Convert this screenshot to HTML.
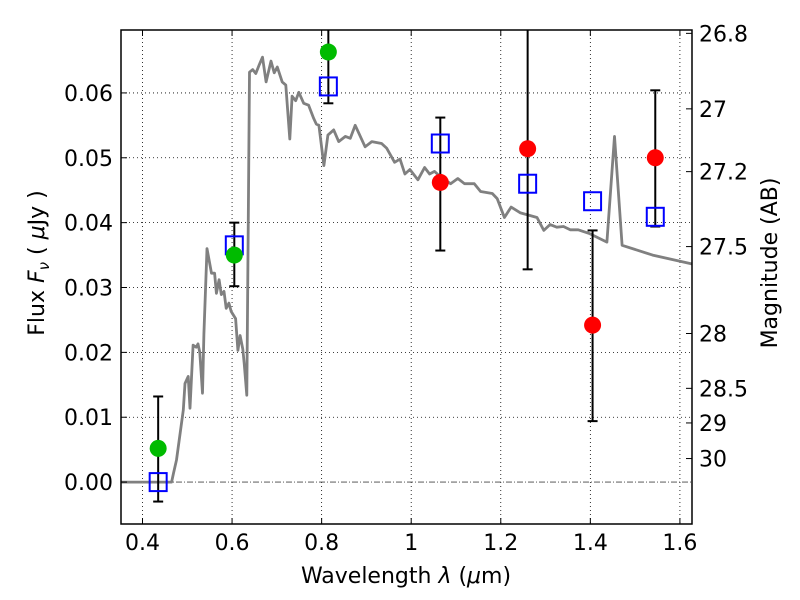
<!DOCTYPE html>
<html><head><meta charset="utf-8"><style>
body{margin:0;background:#fff;}
svg{display:block;font-family:"DejaVu Sans","Liberation Sans",sans-serif;}
</style></head><body>
<svg id="chart" width="800" height="600" viewBox="0 0 800 600" xmlns="http://www.w3.org/2000/svg">
<rect width="800" height="600" fill="#fff"/>
<g id="grid"></g>
<g id="marks"></g>
<g id="axes"></g>
</svg>
<script>
const specLam=[0.35,0.465,0.469,0.476,0.491,0.495,0.502,0.506,0.513,0.52,0.524,0.528,0.534,0.537,0.544,0.554,0.561,0.565,0.571,0.576,0.582,0.587,0.593,0.598,0.608,0.613,0.618,0.624,0.627,0.633,0.636,0.639,0.646,0.653,0.661,0.668,0.676,0.687,0.694,0.701,0.712,0.72,0.729,0.734,0.742,0.749,0.76,0.771,0.782,0.788,0.794,0.805,0.814,0.827,0.838,0.853,0.864,0.875,0.897,0.912,0.934,0.945,0.963,0.975,0.986,0.997,1.015,1.03,1.041,1.052,1.066,1.088,1.104,1.119,1.141,1.155,1.181,1.192,1.208,1.223,1.244,1.281,1.296,1.31,1.325,1.34,1.355,1.373,1.399,1.437,1.454,1.471,1.539,1.63];
const specFlux=[0,0,0.0013,0.0034,0.0111,0.0152,0.0163,0.0114,0.0211,0.0208,0.0213,0.02,0.0137,0.0228,0.036,0.0322,0.0322,0.0291,0.0312,0.0289,0.0294,0.0268,0.0276,0.0263,0.0252,0.0203,0.0226,0.0205,0.0183,0.0134,0.0388,0.0632,0.0636,0.063,0.0644,0.0655,0.0617,0.0649,0.0631,0.064,0.0617,0.0612,0.0529,0.0595,0.0588,0.0601,0.0584,0.0581,0.0561,0.0552,0.055,0.0488,0.0535,0.0543,0.0525,0.0533,0.053,0.055,0.0517,0.0525,0.0522,0.0515,0.0493,0.0498,0.0475,0.0482,0.0466,0.0485,0.0475,0.0479,0.047,0.046,0.0468,0.046,0.046,0.0448,0.0445,0.0437,0.0408,0.0424,0.0415,0.0408,0.0388,0.0397,0.0393,0.0394,0.0389,0.0389,0.0383,0.037,0.0533,0.0365,0.035,0.0336];
const bandLam=[0.435,0.605,0.815,1.065,1.26,1.405,1.545];
const obsFlux=[0.0052,0.035,0.0663,0.0462,0.0514,0.0242,0.0500];
const errLo=[-0.003,0.0302,0.0584,0.0357,0.0328,0.0094,0.0394];
const errHi=[0.0132,0.040,0.080,0.0562,0.080,0.0388,0.0604];
const detected=[false,false,false,true,true,true,true];
const modelFlux=[0.0000,0.0365,0.061,0.0522,0.046,0.0433,0.0409];
const xTicks=[0.4,0.6,0.8,1.0,1.2,1.4,1.6];
const xTickLabels=["0.4","0.6","0.8","1","1.2","1.4","1.6"];
const yTicks=[0,0.01,0.02,0.03,0.04,0.05,0.06];
const yTickLabels=["0.00","0.01","0.02","0.03","0.04","0.05","0.06"];
const magTicks=[26.8,27,27.2,27.5,28,28.5,29,30];
const magTickLabels=["26.8","27","27.2","27.5","28","28.5","29","30"];

const L=121,R=692,T=30,B=524;
const X0=0.352,X1=1.627,Y0=-0.00646,Y1=0.0697;
const sx=v=>L+(v-X0)/(X1-X0)*(R-L);
const sy=v=>B-(v-Y0)/(Y1-Y0)*(B-T);
const NS="http://www.w3.org/2000/svg";
function mk(tag,attrs,parent,txt){const e=document.createElementNS(NS,tag);for(const k in attrs)e.setAttribute(k,attrs[k]);if(txt!==undefined)e.textContent=txt;parent.appendChild(e);return e;}
const grid=document.getElementById('grid'),marks=document.getElementById('marks'),axes=document.getElementById('axes');

const defs=mk('defs',{},document.getElementById('chart'));
const cp=mk('clipPath',{id:'clip'},defs);mk('rect',{x:L,y:T,width:R-L,height:B-T},cp);
marks.setAttribute('clip-path','url(#clip)');

xTicks.forEach((v,i)=>{
  const g=mk('line',{x1:sx(v),x2:sx(v),y1:T,y2:B,stroke:'#000','stroke-width':0.8,'stroke-dasharray':'1,3'},grid);
  
  
  const t=mk('text',{x:sx(v),y:B+26,'text-anchor':'middle','font-size':22},axes,xTickLabels[i]);
  
  
  mk('line',{x1:sx(v),x2:sx(v),y1:B,y2:B-6,stroke:'#000'},axes);
  mk('line',{x1:sx(v),x2:sx(v),y1:T,y2:T+6,stroke:'#000'},axes);
});
yTicks.forEach((v,i)=>{
  if(v===0){
    const z=mk('line',{x1:L,x2:R,y1:sy(v),y2:sy(v),stroke:'#444','stroke-width':0.9,'stroke-dasharray':'6,2,1,2'},grid);
    
    
  } else {
    const g=mk('line',{x1:L,x2:R,y1:sy(v),y2:sy(v),stroke:'#000','stroke-width':0.8,'stroke-dasharray':'1,3'},grid);
    
    
  }
  const t=mk('text',{x:L-8,y:sy(v)+8,'text-anchor':'end','font-size':22},axes,yTickLabels[i]);
  
  
  mk('line',{x1:L,x2:L+6,y1:sy(v),y2:sy(v),stroke:'#000'},axes);
});
magTicks.forEach((m,i)=>{
  const f=Math.pow(10,(23.9-m)/2.5);
  mk('line',{x1:R,x2:R-6,y1:sy(f),y2:sy(f),stroke:'#000'},axes);
  const t=mk('text',{x:R+7,y:sy(f)+8,'font-size':22},axes,magTickLabels[i]);
  
  
});

const pts=specLam.map((l,i)=>sx(l).toFixed(1)+','+sy(specFlux[i]).toFixed(1)).join(' ');
const sp=mk('polyline',{points:pts,fill:'none',stroke:'#808080','stroke-width':2.8,'stroke-linejoin':'round'},marks);



bandLam.forEach((l,i)=>{
  const x=sx(l);
  const e=mk('line',{x1:x,x2:x,y1:sy(errLo[i]),y2:sy(errHi[i]),stroke:'#000','stroke-width':2},marks);
  
  
  [errLo[i],errHi[i]].forEach(v=>{if(v<Y1)mk('line',{x1:x-5,x2:x+5,y1:sy(v),y2:sy(v),stroke:'#000','stroke-width':2},marks);});
});
bandLam.forEach((l,i)=>{
  const s=mk('rect',{x:sx(l)-8.5,y:sy(modelFlux[i])-9,width:17,height:18,fill:'none',stroke:'#0000ff','stroke-width':2},marks);
  
  
});
bandLam.forEach((l,i)=>{
  const c=mk('circle',{cx:sx(l),cy:sy(obsFlux[i]),r:8.5,fill:detected[i]?'#ff0000':'#00bb00'},marks);
  
  
});

const fr=mk('rect',{x:L,y:T,width:R-L,height:B-T,fill:'none',stroke:'#000','stroke-width':1.5},axes);



const xl=mk('text',{x:406,y:583,'text-anchor':'middle','font-size':22},axes);
xl.innerHTML='Wavelength  <tspan font-style="italic">λ</tspan> (<tspan font-style="italic">μ</tspan>m)';


const yl=mk('text',{x:0,y:0,'text-anchor':'middle','font-size':22,transform:'translate(44,263) rotate(-90)'},axes);
yl.innerHTML='Flux  <tspan font-style="italic">F</tspan><tspan font-style="italic" font-size="15" dy="5">ν</tspan><tspan dy="-5">  ( </tspan><tspan font-style="italic">μ</tspan>Jy )';


const yr=mk('text',{x:0,y:0,'text-anchor':'middle','font-size':22,transform:'translate(777,263) rotate(-90)'},axes,'Magnitude (AB)');


</script>
</body></html>
